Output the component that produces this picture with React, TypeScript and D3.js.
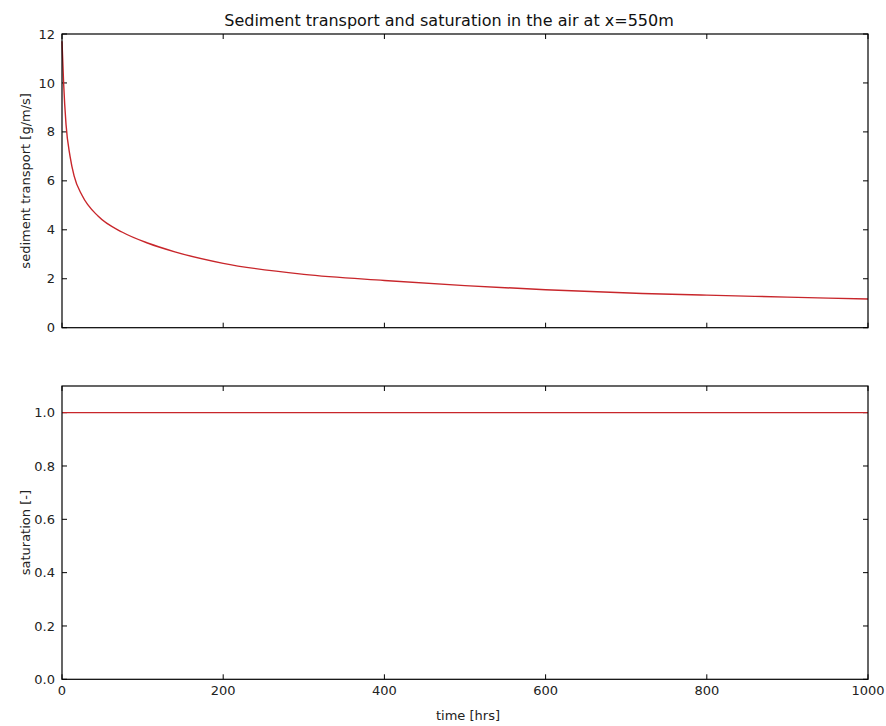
import { useRef, useEffect } from 'react';
import * as d3 from 'd3';

// values
const timeHrs = [0, 2, 5, 10, 15, 25, 45, 75, 107, 140, 200, 300, 400, 500, 600, 720, 800, 900, 1000];
const sedimentTransport = [11.7, 10.0, 8.3, 7.0, 6.2, 5.4, 4.55, 3.9, 3.45, 3.1, 2.63, 2.18, 1.93, 1.72, 1.55, 1.4, 1.33, 1.25, 1.17];
const satTime = [0, 1000];
const saturation = [1.0, 1.0];

const xTicks = [0, 200, 400, 600, 800, 1000];
const topYTicks = [0, 2, 4, 6, 8, 10, 12];
const bottomYTicks = [0.0, 0.2, 0.4, 0.6, 0.8, 1.0];

const W = 886;
const H = 726;
const FONT = 'DejaVu Sans, sans-serif';
const LINE = '#c8262b';

export default function App() {
  const svgRef = useRef<SVGSVGElement>(null);

  useEffect(() => {
    const svg = d3.select(svgRef.current);
    svg.selectAll('*').remove();

    const left = 62;
    const right = 868;
    const x = d3.scaleLinear().domain([0, 1000]).range([left, right]);

    const yTop = d3.scaleLinear().domain([0, 12]).range([327.7, 34]);
    const yBot = d3.scaleLinear().domain([0, 1.1]).range([679.3, 386]);

    function panel(y: d3.ScaleLinear<number, number>, yTicks: number[], fmt: (v: number) => string, showX: boolean) {
      const g = svg.append('g');
      const [y0, y1] = y.range();
      const tl = 5;

      // ticks, inward on all sides
      xTicks.forEach((t) => {
        g.append('line').attr('x1', x(t)).attr('x2', x(t)).attr('y1', y0).attr('y2', y0 - tl)
          .attr('stroke', '#000').attr('stroke-width', 1);
        g.append('line').attr('x1', x(t)).attr('x2', x(t)).attr('y1', y1).attr('y2', y1 + tl)
          .attr('stroke', '#000').attr('stroke-width', 1);
      });
      yTicks.forEach((v) => {
        g.append('line').attr('x1', left).attr('x2', left + tl).attr('y1', y(v)).attr('y2', y(v))
          .attr('stroke', '#000').attr('stroke-width', 1);
        g.append('line').attr('x1', right).attr('x2', right - tl).attr('y1', y(v)).attr('y2', y(v))
          .attr('stroke', '#000').attr('stroke-width', 1);
        g.append('text')
          .attr('x', left - 7).attr('y', y(v)).attr('dy', '0.35em')
          .attr('text-anchor', 'end')
          .attr('font-family', FONT).attr('font-size', 13).attr('fill', '#222')
          .text(fmt(v));
      });

      if (showX) {
        xTicks.forEach((t) => {
          g.append('text')
            .attr('x', x(t)).attr('y', y0 + 16)
            .attr('text-anchor', 'middle')
            .attr('font-family', FONT).attr('font-size', 13).attr('fill', '#222')
            .text(String(t));
        });
      }
      return g;
    }

    const gTop = panel(yTop, topYTicks, (v) => String(v), false);
    const gBot = panel(yBot, bottomYTicks, (v) => v.toFixed(1), true);

    const topLine = d3.line<number>()
      .x((_, i) => x(timeHrs[i]))
      .y((d) => yTop(d))
      .curve(d3.curveMonotoneX);

    gTop.append('path')
      .datum(sedimentTransport)
      .attr('d', topLine)
      .attr('fill', 'none')
      .attr('stroke', LINE)
      .attr('stroke-width', 1.4);

    const botLine = d3.line<number>()
      .x((_, i) => x(satTime[i]))
      .y((d) => yBot(d));

    gBot.append('path')
      .datum(saturation)
      .attr('d', botLine)
      .attr('fill', 'none')
      .attr('stroke', LINE)
      .attr('stroke-width', 1.4);

    // frames
    [[yTop, gTop], [yBot, gBot]].forEach(([y, g]: any) => {
      const [y0, y1] = y.range();
      g.append('rect')
        .attr('x', left).attr('y', y1)
        .attr('width', right - left).attr('height', y0 - y1)
        .attr('fill', 'none').attr('stroke', '#000').attr('stroke-width', 1.2);
    });

    // title and axis labels
    svg.append('text')
      .attr('x', (left + right) / 2 - 16).attr('y', 26)
      .attr('text-anchor', 'middle')
      .attr('font-family', FONT).attr('font-size', 16).attr('fill', '#111')
      .text('Sediment transport and saturation in the air at x=550m');

    svg.append('text')
      .attr('x', (left + right) / 2 + 3).attr('y', 720)
      .attr('text-anchor', 'middle')
      .attr('font-family', FONT).attr('font-size', 13).attr('fill', '#222')
      .text('time [hrs]');

    svg.append('text')
      .attr('transform', `translate(30,${(yTop.range()[0] + yTop.range()[1]) / 2}) rotate(-90)`)
      .attr('text-anchor', 'middle')
      .attr('font-family', FONT).attr('font-size', 13).attr('fill', '#222')
      .text('sediment transport [g/m/s]');

    svg.append('text')
      .attr('transform', `translate(30,${(yBot.range()[0] + yBot.range()[1]) / 2}) rotate(-90)`)
      .attr('text-anchor', 'middle')
      .attr('font-family', FONT).attr('font-size', 13).attr('fill', '#222')
      .text('saturation [-]');
  }, []);

  return (
    <svg
      ref={svgRef}
      width={W}
      height={H}
      style={{ position: 'absolute', left: 0, top: 0, background: '#fff', display: 'block' }}
    />
  );
}
